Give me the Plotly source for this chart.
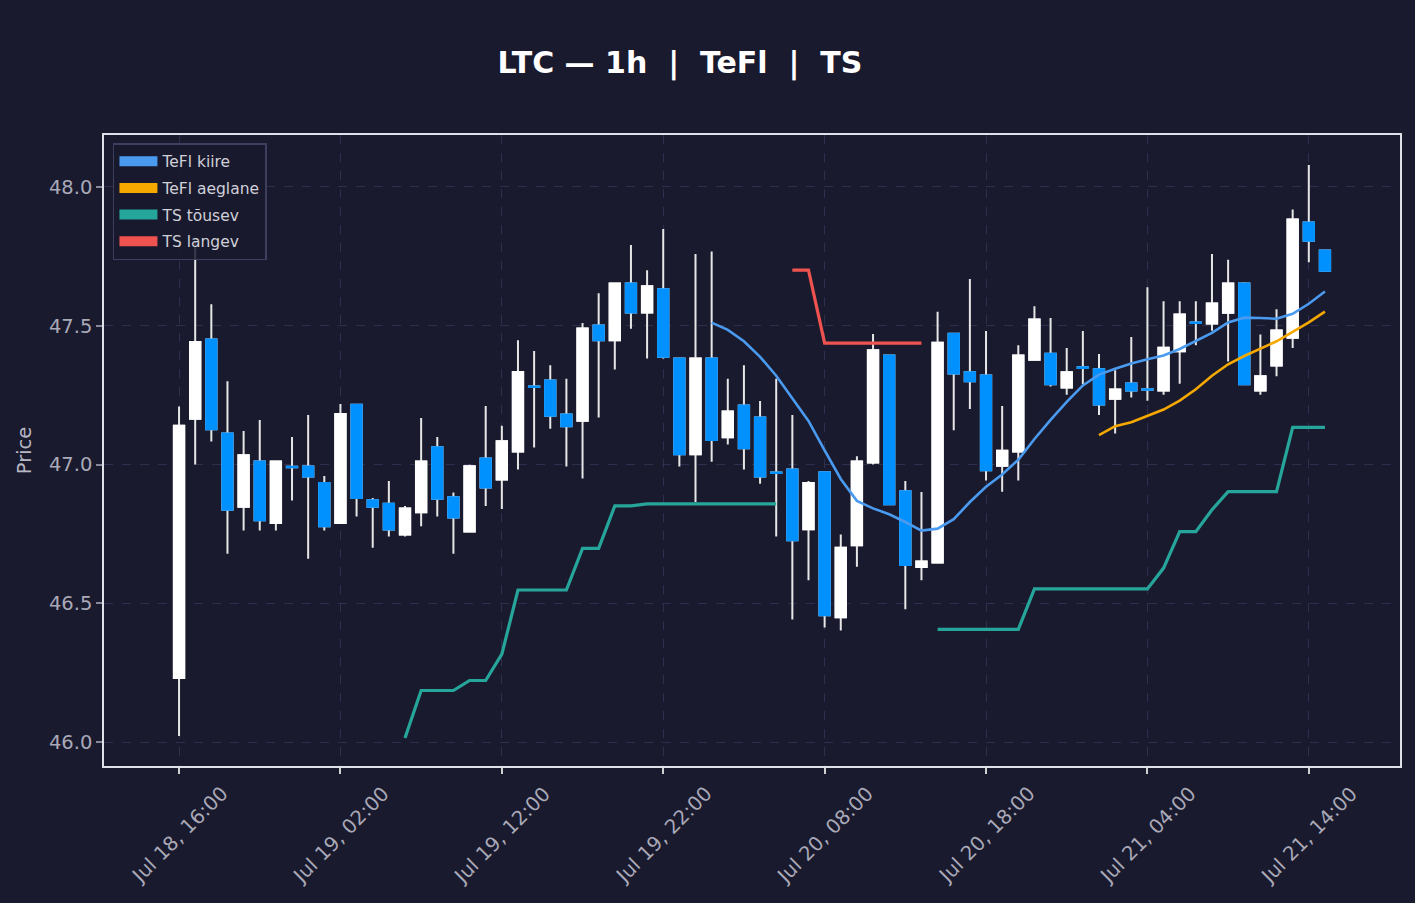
import pandas as pd
import plotly.graph_objects as go

# ---------------- data ----------------
start_time = "2024-07-18 16:00"
n_bars = 72

opens = [46.231, 47.165, 47.450, 47.112, 46.848, 47.011, 46.789, 46.992, 46.993, 46.933,
         46.789, 47.215, 46.871, 46.859, 46.748, 46.828, 47.062, 46.882, 46.759, 47.022,
         46.946, 47.047, 47.281, 47.303, 47.180, 47.158, 47.501, 47.448, 47.652, 47.548,
         47.631, 47.382, 47.037, 47.382, 47.098, 47.213, 47.169, 46.971, 46.982, 46.767,
         46.972, 46.450, 46.709, 47.007, 47.393, 46.904, 46.631, 46.647, 47.471, 47.332,
         47.321, 46.996, 47.047, 47.377, 47.399, 47.277, 47.350, 47.343, 47.237, 47.292,
         47.271, 47.267, 47.408, 47.512, 47.508, 47.547, 47.652, 47.267, 47.357, 47.457,
         47.872, 47.771]
highs = [47.209, 47.800, 47.577, 47.300, 47.121, 47.160, 47.011, 47.099, 47.178, 46.959,
         47.218, 47.215, 46.879, 46.941, 46.851, 47.168, 47.099, 46.899, 46.999, 47.211,
         47.140, 47.448, 47.409, 47.358, 47.309, 47.510, 47.617, 47.652, 47.791, 47.700,
         47.848, 47.382, 47.758, 47.767, 47.309, 47.358, 47.229, 47.309, 47.178, 46.941,
         46.972, 46.748, 47.030, 47.470, 47.393, 46.941, 46.901, 47.550, 47.471, 47.668,
         47.481, 47.211, 47.430, 47.570, 47.528, 47.420, 47.481, 47.398, 47.340, 47.459,
         47.639, 47.588, 47.588, 47.588, 47.758, 47.738, 47.657, 47.468, 47.559, 47.919,
         48.079, 47.771]
lows = [46.022, 47.000, 47.083, 46.679, 46.762, 46.762, 46.762, 46.870, 46.661, 46.762,
        46.789, 46.813, 46.700, 46.741, 46.741, 46.778, 46.813, 46.679, 46.759, 46.851,
        46.840, 46.982, 47.061, 47.129, 46.993, 46.950, 47.169, 47.342, 47.489, 47.382,
        47.382, 46.993, 46.865, 47.010, 47.072, 46.982, 46.931, 46.741, 46.442, 46.583,
        46.413, 46.402, 46.632, 47.000, 46.857, 46.479, 46.583, 46.647, 47.123, 47.200,
        46.942, 46.902, 46.942, 47.377, 47.281, 47.251, 47.289, 47.178, 47.112, 47.241,
        47.230, 47.251, 47.291, 47.430, 47.482, 47.371, 47.289, 47.251, 47.318, 47.420,
        47.729, 47.698]
closes = [47.140, 47.441, 47.127, 46.837, 47.033, 46.799, 47.011, 46.990, 46.957, 46.778,
          47.182, 46.879, 46.848, 46.766, 46.842, 47.011, 46.877, 46.809, 46.994, 46.917,
          47.084, 47.333, 47.279, 47.176, 47.138, 47.490, 47.448, 47.652, 47.548, 47.642,
          47.388, 47.037, 47.382, 47.088, 47.191, 47.059, 46.957, 46.969, 46.727, 46.933,
          46.457, 46.700, 47.011, 47.412, 46.857, 46.638, 46.651, 47.439, 47.328, 47.300,
          46.979, 47.050, 47.393, 47.522, 47.289, 47.332, 47.348, 47.216, 47.270, 47.267,
          47.269, 47.421, 47.540, 47.510, 47.580, 47.652, 47.289, 47.318, 47.483, 47.883,
          47.806, 47.698]

N = None
tefl_fast = [N] * 33 + [47.511, 47.485, 47.444, 47.388, 47.320, 47.237, 47.157, 47.051, 46.948, 46.869,
                        46.842, 46.821, 46.793, 46.762, 46.769, 46.803, 46.865, 46.920, 46.964, 47.017,
                        47.092, 47.161, 47.226, 47.285, 47.324, 47.345, 47.364, 47.379, 47.393, 47.416,
                        47.444, 47.474, 47.512, 47.529, 47.528, 47.525, 47.543, 47.579, 47.623]
tefl_slow = [N] * 57 + [47.106, 47.138, 47.152, 47.175, 47.198, 47.230, 47.271, 47.320, 47.361, 47.391,
                        47.419, 47.444, 47.478, 47.512, 47.551]
ts_up = ([N] * 14 + [46.015, 46.186, 46.186, 46.186, 46.222, 46.222, 46.317, 46.548, 46.548, 46.548,
                     46.548, 46.698, 46.698, 46.851, 46.851, 46.858, 46.858, 46.858, 46.858, 46.858,
                     46.858, 46.858, 46.858, 46.858]
         + [N] * 9
         + [46.406, 46.406, 46.406, 46.406, 46.406, 46.406, 46.552, 46.552, 46.552, 46.552,
            46.552, 46.552, 46.552, 46.552, 46.627, 46.758, 46.758, 46.837, 46.902, 46.902,
            46.902, 46.902, 47.134, 47.134, 47.134])
ts_down = [N] * 38 + [47.700, 47.700, 47.437, 47.437, 47.437, 47.437, 47.437, 47.437, 47.437] + [N] * 25

tick_times = ["2024-07-18 16:00", "2024-07-19 02:00", "2024-07-19 12:00", "2024-07-19 22:00",
              "2024-07-20 08:00", "2024-07-20 18:00", "2024-07-21 04:00", "2024-07-21 14:00"]
tick_labels = ["Jul 18, 16:00", "Jul 19, 02:00", "Jul 19, 12:00", "Jul 19, 22:00",
               "Jul 20, 08:00", "Jul 20, 18:00", "Jul 21, 04:00", "Jul 21, 14:00"]
y_ticks = [46.0, 46.5, 47.0, 47.5, 48.0]

legend_names = ["TeFl kiire", "TeFl aeglane", "TS tõusev", "TS langev"]

# ---------------- style ----------------
BG = "#1a1a2e"
INC = "#ffffff"
DEC = "#0091ff"
WICK = "#e6e6e6"
C_FAST = "#4a9af0"
C_SLOW = "#f5a800"
C_UP = "#26a69a"
C_DOWN = "#ef5350"
GRID = "#2e2e4e"
FONT = "DejaVu Sans"

times = pd.date_range(start_time, periods=n_bars, freq="h")
body_hi = [max(o, c) for o, c in zip(opens, closes)]
body_lo = [min(o, c) for o, c in zip(opens, closes)]

fig = go.Figure()
# full candles (white wicks)
fig.add_trace(go.Candlestick(
    x=times, open=opens, high=highs, low=lows, close=closes,
    increasing=dict(line=dict(color=WICK, width=2), fillcolor=INC),
    decreasing=dict(line=dict(color=WICK, width=2), fillcolor=DEC),
    whiskerwidth=0, showlegend=False, hoverinfo="skip"))
# bodies only, with body-coloured outline
fig.add_trace(go.Candlestick(
    x=times, open=opens, high=body_hi, low=body_lo, close=closes,
    increasing=dict(line=dict(color=INC, width=2), fillcolor=INC),
    decreasing=dict(line=dict(color=DEC, width=2), fillcolor=DEC),
    whiskerwidth=0, showlegend=False, hoverinfo="skip"))

fig.add_trace(go.Scatter(x=times, y=ts_up, mode="lines", line=dict(color=C_UP, width=3.2),
                         connectgaps=False, showlegend=False))
fig.add_trace(go.Scatter(x=times, y=ts_down, mode="lines", line=dict(color=C_DOWN, width=3.2),
                         connectgaps=False, showlegend=False))
fig.add_trace(go.Scatter(x=times, y=tefl_fast, mode="lines", line=dict(color=C_FAST, width=2.6),
                         showlegend=False))
fig.add_trace(go.Scatter(x=times, y=tefl_slow, mode="lines", line=dict(color=C_SLOW, width=2.6),
                         showlegend=False))

# legend entries (swatches)
for name, col in zip(legend_names, [C_FAST, C_SLOW, C_UP, C_DOWN]):
    fig.add_trace(go.Scatter(x=[None], y=[None], mode="lines", name=name,
                             line=dict(color=col, width=12), legendgroup=name))

for t, lab in zip(tick_times, tick_labels):
    fig.add_annotation(x=t, xref="x", y=-0.1094, yref="paper", text=lab, textangle=-45,
                       showarrow=False, xanchor="center", yanchor="middle",
                       font=dict(family=FONT, size=19.8, color="#a9a9b8"))

x0 = times[0] - pd.Timedelta(hours=4.65)
x1 = times[-1] + pd.Timedelta(hours=4.65)

fig.update_layout(
    width=1415, height=903,
    paper_bgcolor=BG, plot_bgcolor=BG,
    margin=dict(l=104, r=15, t=135, b=137),
    boxgap=0.2, boxgroupgap=0.2,
    font=dict(family=FONT, color="#cfcfd8"),
    title=dict(text="LTC — 1h\u00a0\u00a0|\u00a0\u00a0TeFl\u00a0\u00a0|\u00a0\u00a0TS",
               x=680 / 1415, xanchor="center", y=1 - 62 / 903, yanchor="middle",
               font=dict(family=FONT, size=30, color="#ffffff", weight="bold")),
    legend=dict(x=0.0069, y=0.987, xanchor="left", yanchor="top",
                bgcolor="rgba(26,26,46,0.85)", bordercolor="#3e3e5e", borderwidth=1.5,
                font=dict(family=FONT, size=15.5, color="#d0d0d8"),
                itemwidth=38, tracegroupgap=3.5, traceorder="grouped"),
    xaxis=dict(type="date", range=[x0, x1], rangeslider=dict(visible=False),
               tickvals=tick_times, showticklabels=False,
               ticks="outside", ticklen=6, tickwidth=1.5, tickcolor="#d0d0d0",
               showgrid=True, gridcolor=GRID, gridwidth=1.3, griddash="dash",
               showline=True, linecolor="#e0e0e8", linewidth=1.5, mirror=True, zeroline=False),
    yaxis=dict(range=[45.914, 48.187], tickvals=y_ticks, tickformat=".1f",
               ticks="outside", ticklen=6, tickwidth=1.5, tickcolor="#888899",
               tickfont=dict(family=FONT, size=19.5, color="#a9a9b8"),
               title=dict(text="Price", font=dict(family=FONT, size=19.5, color="#b8b8c4"), standoff=12),
               showgrid=True, gridcolor=GRID, gridwidth=1.3, griddash="dash",
               showline=True, linecolor="#e0e0e8", linewidth=1.5, mirror=True, zeroline=False),
)

fig.write_html("out.html")
